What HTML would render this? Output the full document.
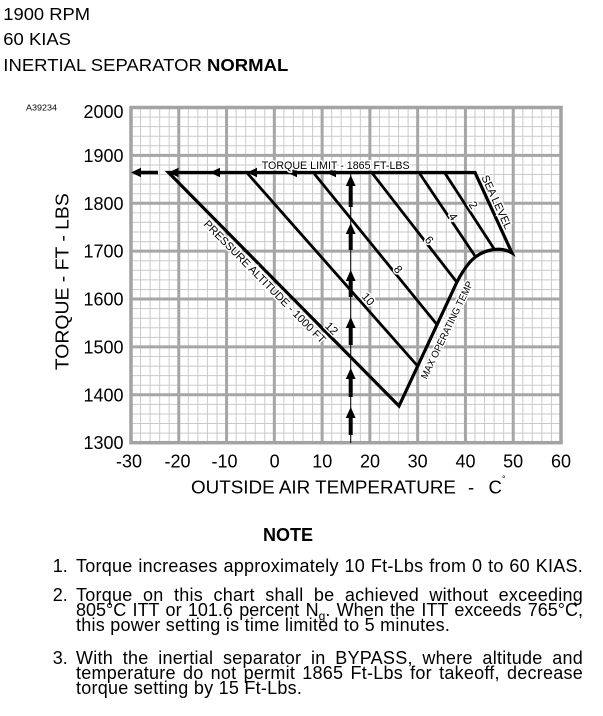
<!DOCTYPE html>
<html><head><meta charset="utf-8"><style>
html,body{margin:0;padding:0;background:#fff;}
body{width:603px;height:716px;position:relative;overflow:hidden;font-family:"Liberation Sans",Arial,sans-serif;color:#000;}
svg{position:absolute;left:0;top:0;}
.num{position:absolute;left:52.7px;font-size:18px;line-height:20px;white-space:nowrap;}
.ln{position:absolute;left:76px;width:507px;font-size:18px;line-height:20px;letter-spacing:0.25px;}
.j{text-align:justify;text-align-last:justify;}
sub{font-size:12px;vertical-align:-4px;line-height:0;}
</style></head><body>
<svg width="603" height="716" viewBox="0 0 603 716" font-family="Liberation Sans, Arial, sans-serif">
<text x="3.3" y="20" font-size="17.5" textLength="86.7" lengthAdjust="spacingAndGlyphs">1900 RPM</text>
<text x="3.3" y="45" font-size="17.5" textLength="67.7" lengthAdjust="spacingAndGlyphs">60 KIAS</text>
<text x="3.3" y="71" font-size="17.5" textLength="285" lengthAdjust="spacingAndGlyphs">INERTIAL SEPARATOR <tspan font-weight="bold">NORMAL</tspan></text>
<text x="26" y="110.7" font-size="8.5" textLength="31" lengthAdjust="spacingAndGlyphs">A39234</text>

<path fill="none" stroke="#cacaca" stroke-width="1" d="M140.56 107.5V442.7M150.11 107.5V442.7M159.67 107.5V442.7M169.22 107.5V442.7M188.33 107.5V442.7M197.89 107.5V442.7M207.44 107.5V442.7M217 107.5V442.7M236.11 107.5V442.7M245.67 107.5V442.7M255.22 107.5V442.7M264.78 107.5V442.7M283.89 107.5V442.7M293.44 107.5V442.7M303 107.5V442.7M312.56 107.5V442.7M331.67 107.5V442.7M341.22 107.5V442.7M350.78 107.5V442.7M360.33 107.5V442.7M379.44 107.5V442.7M389 107.5V442.7M398.56 107.5V442.7M408.11 107.5V442.7M427.22 107.5V442.7M436.78 107.5V442.7M446.33 107.5V442.7M455.89 107.5V442.7M475 107.5V442.7M484.56 107.5V442.7M494.11 107.5V442.7M503.67 107.5V442.7M522.78 107.5V442.7M532.33 107.5V442.7M541.89 107.5V442.7M551.44 107.5V442.7
M131 117.08H561M131 126.65H561M131 136.23H561M131 145.81H561M131 164.96H561M131 174.54H561M131 184.12H561M131 193.69H561M131 212.85H561M131 222.42H561M131 232H561M131 241.58H561M131 260.73H561M131 270.31H561M131 279.89H561M131 289.46H561M131 308.62H561M131 318.19H561M131 327.77H561M131 337.35H561M131 356.5H561M131 366.08H561M131 375.66H561M131 385.23H561M131 404.39H561M131 413.96H561M131 423.54H561M131 433.12H561"/>
<path fill="none" stroke="#a6a6a6" stroke-width="3" d="M178.78 107.5V442.7M226.56 107.5V442.7M274.33 107.5V442.7M322.11 107.5V442.7M369.89 107.5V442.7M417.67 107.5V442.7M465.44 107.5V442.7M513.22 107.5V442.7M131 155.39H561M131 203.27H561M131 251.16H561M131 299.04H561M131 346.93H561M131 394.81H561"/>
<rect x="131" y="107.5" width="430" height="335.2" fill="none" stroke="#a3a3a3" stroke-width="3.5"/>

<g font-size="18" text-anchor="end">
<text x="123.5" y="118">2000</text>
<text x="123.5" y="162">1900</text>
<text x="123.5" y="209.8">1800</text>
<text x="123.5" y="257.7">1700</text>
<text x="123.5" y="305.5">1600</text>
<text x="123.5" y="353.4">1500</text>
<text x="123.5" y="401.3">1400</text>
<text x="123.5" y="449.2">1300</text>
</g>
<g font-size="18" text-anchor="middle">
<text x="129" y="467.7">-30</text>
<text x="177.5" y="467.7">-20</text>
<text x="224.5" y="467.7">-10</text>
<text x="274.6" y="467.7">0</text>
<text x="322.3" y="467.7">10</text>
<text x="370" y="467.7">20</text>
<text x="417.7" y="467.7">30</text>
<text x="465.5" y="467.7">40</text>
<text x="513.2" y="467.7">50</text>
<text x="561" y="467.7">60</text>
</g>

<text transform="translate(68.3,281.7) rotate(-90)" text-anchor="middle" font-size="18" textLength="177" lengthAdjust="spacingAndGlyphs">TORQUE - FT - LBS</text>
<text x="191" y="493.3" font-size="18.5" textLength="265" lengthAdjust="spacingAndGlyphs">OUTSIDE AIR TEMPERATURE</text>
<text x="468" y="493.3" font-size="18.5">-</text>
<text x="488.5" y="493.3" font-size="18.5">C</text>
<text x="502" y="482" font-size="9">°</text>

<text x="288" y="541" text-anchor="middle" font-size="18" font-weight="bold">NOTE</text>

<path fill="none" stroke="#000" stroke-width="3.2" stroke-linejoin="miter" d="M168.5 172.5L399 406L457 282C460 276 464 269 470 262C482 249 500 246 512 253L475 172.5Z"/>
<path fill="none" stroke="#000" stroke-width="2.8" d="M246.7 172.5L416.7 365M313.3 172.5L437.3 325M371.7 172.5L456.7 282M419 172.5L475 256M444.5 172.5L494.5 249.5"/>

<line x1="136" y1="172.5" x2="158" y2="172.5" stroke="#000" stroke-width="3.6"/>
<g fill="#000">
<polygon points="131,172.5 141,167.8 141,177.2"/>
<polygon points="168.5,172.5 178.5,167.8 178.5,177.2"/>
<polygon points="210,172.5 220,167.8 220,177.2"/>
<polygon points="247,172.5 257,167.8 257,177.2"/>
<polygon points="287,172.5 297,167.8 297,177.2"/>
<polygon points="326,172.5 336,167.8 336,177.2"/>
</g>

<g font-size="11" stroke="#fff" stroke-width="3" paint-order="stroke" fill="#000">
<text x="261.7" y="169" textLength="148" lengthAdjust="spacingAndGlyphs">TORQUE LIMIT - 1865 FT-LBS</text>
<text transform="translate(497,202) rotate(65.4)" text-anchor="middle" dy="4" textLength="58" lengthAdjust="spacingAndGlyphs">SEA LEVEL</text>
<text transform="translate(265,281.5) rotate(45.3)" text-anchor="middle" dy="4" textLength="168" lengthAdjust="spacingAndGlyphs">PRESSURE ALTITUDE - 1000 FT</text>
<text transform="translate(446.7,330) rotate(-64.2)" text-anchor="middle" dy="3.5" font-size="10" textLength="107" lengthAdjust="spacingAndGlyphs">MAX OPERATING TEMP</text>
<g font-size="11.5" text-anchor="middle">
<text transform="translate(473.3,205) rotate(57)" dy="4">2</text>
<text transform="translate(453.3,216.7) rotate(55)" dy="4">4</text>
<text transform="translate(429.3,240) rotate(51)" dy="4">6</text>
<text transform="translate(398.3,269.3) rotate(51)" dy="4">8</text>
<text transform="translate(368.3,299) rotate(48.6)" dy="4">10</text>
<text transform="translate(331.7,328.3) rotate(45)" dy="4">12</text>
</g>
</g>

<line x1="350.7" y1="172.5" x2="350.7" y2="443" stroke="#000" stroke-width="1"/>
<g fill="#000">
<rect x="348.7" y="181" width="4" height="26"/>
<polygon points="350.7,175 345.8,186 355.6,186"/>
<rect x="348.7" y="229" width="4" height="21"/>
<polygon points="350.7,223 345.8,234 355.6,234"/>
<rect x="348.7" y="276" width="4" height="21"/>
<polygon points="350.7,270 345.8,281 355.6,281"/>
<rect x="348.7" y="323" width="4" height="22"/>
<polygon points="350.7,317 345.8,328 355.6,328"/>
<rect x="348.7" y="374" width="4" height="23"/>
<polygon points="350.7,368 345.8,379 355.6,379"/>
<rect x="348.7" y="413" width="4" height="22"/>
<polygon points="350.7,407 345.8,418 355.6,418"/>
</g>
</svg>

<div class="num" style="top:555.5px">1.</div>
<div class="ln j" style="top:555.5px">Torque increases approximately 10 Ft-Lbs from 0 to 60 KIAS.</div>
<div class="num" style="top:584.5px">2.</div>
<div class="ln j" style="top:584.5px">Torque on this chart shall be achieved without exceeding</div>
<div class="ln j" style="top:599.5px;letter-spacing:0;">805°C ITT or 101.6 percent N<sub>g</sub>. When the ITT exceeds 765°C,</div>
<div class="ln" style="top:614.5px">this power setting is time limited to 5 minutes.</div>
<div class="num" style="top:647.8px">3.</div>
<div class="ln j" style="top:647.8px">With the inertial separator in BYPASS, where altitude and</div>
<div class="ln j" style="top:662.8px">temperature do not permit 1865 Ft-Lbs for takeoff, decrease</div>
<div class="ln" style="top:677.8px">torque setting by 15 Ft-Lbs.</div>
</body></html>
